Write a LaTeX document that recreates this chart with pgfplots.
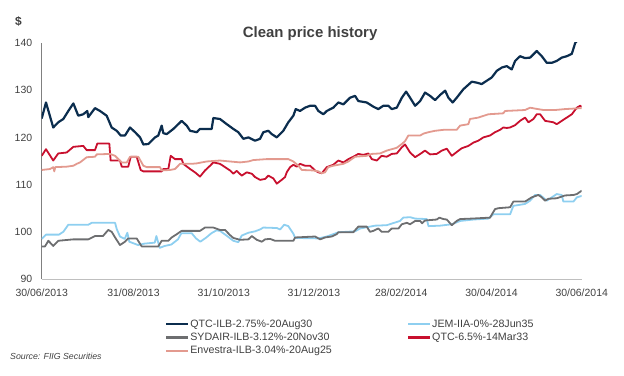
\documentclass[border=0pt]{standalone}
\usepackage{fontspec}
\setmainfont{Liberation Sans}
\usepackage{pgfplots}
\pgfplotsset{compat=1.18}
\definecolor{cNavy}{HTML}{0B2D4E}
\definecolor{cLBlue}{HTML}{8ECFF0}
\definecolor{cGray}{HTML}{6D6E70}
\definecolor{cRed}{HTML}{C8102E}
\definecolor{cSalmon}{HTML}{E39A8F}
\definecolor{cText}{HTML}{404040}
\begin{document}
\begin{tikzpicture}[x=1bp,y=1bp]
\path[use as bounding box] (0,0) rectangle (624,375);
\node[font=\bfseries\fontsize{12}{13}\selectfont, text=cText] at (18.5,353) {\$};
\node[anchor=west, font=\itshape\fontsize{8.8}{10}\selectfont, text=cText, inner sep=0pt] at (10,19) {Source: FIIG Securities};
\begin{axis}[
 at={(41.7bp,96bp)}, anchor=south west,
 scale only axis, width=540bp, height=236bp,
 xmin=0, xmax=365, ymin=90, ymax=140,
 axis x line*=bottom, axis y line*=left,
 x axis line style={draw=black!25, line width=1bp},
 y axis line style={draw=black!50, line width=0.8bp},
 major tick length=0pt,
 ytick={90,100,110,120,130,140},
 xtick={0,62,123,184,243,304,365},
 xticklabels={30/06/2013,31/08/2013,31/10/2013,31/12/2013,28/02/2014,30/04/2014,30/06/2014},
 ticklabel style={font=\fontsize{10.5}{12}\selectfont, text=cText},
 /pgf/number format/assume math mode=true,
 yticklabel style={xshift=-6bp},
 xticklabel style={yshift=-6bp},
 every axis title shift=0pt,
 title={Clean price history},
 title style={font=\bfseries\fontsize{15}{17}\selectfont, text=cText, anchor=base, at={(0.497,1.0254)}},
 legend columns=2,
 legend cell align=left,
 legend style={at={(0.2283,-0.167)}, anchor=north west, draw=none, fill=none, inner sep=0pt, outer sep=0pt,
   font=\fontsize{10.7}{12}\selectfont, text=cText, row sep=1.5bp,
   /tikz/every even column/.append style={column sep=74bp},
   nodes={inner sep=1bp, text height=7.7bp, text depth=2bp}},
 legend image code/.code={\draw[#1, line width=2.3bp] (0bp,0bp) -- (22bp,0bp);},
 every axis plot/.append style={no markers, line join=round},
]
\addplot[cNavy, line width=2.2bp] table {
0 124.0
2.9 127.4
7.8 122.1
11.2 123.2
14.6 123.9
18.0 125.6
21.4 127.2
24.7 124.6
28.1 124.9
30.8 125.6
31.5 124.3
36.0 126.2
39.4 125.6
43.9 124.6
47.3 122.1
50.7 121.4
53.4 120.4
56.3 120.4
59.7 122.1
63.1 121.1
66.5 120.0
68.7 118.5
72.1 118.6
76.6 120.0
78.8 120.4
81.1 122.5
82.2 120.9
84.5 120.7
89.0 121.8
94.6 123.5
98.0 122.5
100.3 121.4
104.8 121.1
107.0 121.8
114.9 121.8
116.0 124.1
120.5 123.9
125.1 122.8
129.5 121.8
132.9 121.1
136.3 119.7
139.7 120.0
144.2 119.3
147.6 119.7
149.8 121.1
153.2 121.4
155.5 120.7
158.9 120.0
163.3 121.4
166.7 123.2
170.1 124.6
171.7 126.0
174.6 125.6
178.0 126.3
181.4 126.7
184.8 126.7
187.0 125.6
190.4 124.9
192.7 125.6
197.1 126.3
200.5 127.4
203.9 127.0
208.4 128.4
211.8 128.8
214.0 127.7
219.7 127.4
224.2 126.5
227.5 126.0
230.9 126.7
234.3 126.7
236.6 126.0
240.0 126.3
243.4 128.4
246.3 129.7
249.0 128.4
252.4 126.7
255.8 127.7
259.1 129.5
262.5 128.8
265.9 127.9
269.3 129.0
272.7 129.9
274.9 128.4
277.8 127.4
280.5 128.4
285.0 130.2
290.7 131.8
294.1 131.6
297.4 131.3
300.8 132.0
304.2 132.7
307.6 134.1
311.0 134.8
314.3 135.1
317.7 134.4
320.0 136.2
323.3 137.2
326.7 136.8
330.1 136.9
334.6 138.3
338.0 137.2
341.4 135.8
344.8 135.8
348.1 136.2
351.5 136.9
354.9 137.2
358.3 137.7
360.6 140.0
361.5 140.3
};
\addlegendentry{QTC-ILB-2.75\%-20Aug30}
\addplot[cLBlue, line width=1.8bp] table {
0 98.5
2.9 99.4
11.7 99.4
14.6 100.0
18.0 101.5
31.5 101.5
33.8 101.9
49.6 101.9
50.7 100.6
52.9 99.0
56.1 98.5
57.9 99.8
59.2 97.9
65.1 97.2
69.6 97.5
76.4 97.7
77.5 99.1
79.8 96.6
83.1 97.0
87.6 97.3
92.1 98.4
94.4 99.7
101.4 99.7
104.3 98.6
107.2 97.9
111.3 98.8
114.7 99.7
118.1 100.3
120.5 100.2
124.9 99.2
129.5 98.1
132.9 97.8
135.2 99.2
139.7 99.8
144.2 100.1
147.6 100.5
149.8 100.9
158.9 100.8
161.2 100.5
163.9 101.5
166.7 101.2
170.1 99.6
171.3 98.7
187.0 98.6
192.7 99.0
197.1 99.5
200.5 99.9
211.8 100.1
215.2 100.7
225.3 101.3
233.2 101.4
242.2 102.3
244.4 103.0
249.0 103.1
252.4 102.8
260.3 102.7
261.4 101.2
269.3 101.3
277.2 101.6
282.8 102.3
291.8 102.6
301.9 102.8
305.3 103.7
316.6 103.7
318.8 105.5
326.7 105.9
330.1 106.6
333.5 107.8
336.9 107.8
341.4 106.6
348.1 108.0
351.5 107.8
352.6 106.4
359.4 106.4
361.7 107.3
365 107.6
};
\addlegendentry{JEM-IIA-0\%-28Jun35}
\addplot[cGray, line width=1.8bp] table {
0 96.9
2.2 96.9
4.5 98.1
7.8 97.0
11.2 98.1
21.4 98.4
31.5 98.4
36.0 99.1
41.4 99.1
45.0 100.4
47.3 100.0
49.6 98.8
52.9 97.2
56.3 97.9
58.5 98.6
64.2 98.6
67.6 96.9
78.8 96.9
81.1 98.1
85.6 98.1
87.9 98.8
91.3 99.5
94.6 100.2
107.0 100.2
110.4 100.9
116.0 100.9
120.5 100.4
123.9 100.4
127.3 99.3
129.5 98.7
134.1 98.3
139.7 98.4
142.0 99.1
145.4 98.3
148.8 97.9
151.0 98.4
154.4 98.5
157.7 98.1
170.1 98.1
171.3 98.8
184.8 99.0
188.2 98.4
191.5 98.8
196.0 99.0
199.4 99.5
200.5 99.9
210.6 99.9
214.0 101.1
219.7 101.1
221.9 100.0
224.2 100.2
227.5 100.7
229.8 100.0
234.3 100.0
236.6 100.7
241.1 100.7
243.4 101.6
246.8 101.9
249.0 101.6
252.4 102.3
255.8 102.3
257.1 101.8
259.1 102.4
267.0 102.6
268.8 103.0
271.5 102.7
273.8 102.6
277.2 101.4
280.5 102.3
282.8 102.7
290.7 102.8
303.0 103.0
306.4 104.8
308.6 105.0
316.6 105.2
318.8 106.4
326.7 106.4
331.2 107.3
335.7 107.8
338.0 107.3
340.3 106.6
342.5 107.0
348.1 107.1
353.7 107.7
359.4 107.8
361.7 108.0
365 108.7
};
\addlegendentry{SYDAIR-ILB-3.12\%-20Nov30}
\addplot[cRed, line width=1.8bp] table {
0 116.1
2.9 117.5
7.8 115.1
11.2 116.6
16.9 116.8
21.4 118.0
28.1 118.2
30.4 117.3
36.0 117.3
37.6 118.7
45.7 118.7
46.6 115.1
52.9 115.1
54.1 113.8
58.5 113.8
60.2 115.9
64.2 115.9
66.9 113.1
68.7 112.8
81.1 112.8
82.2 113.3
85.6 113.3
87.2 116.1
90.1 115.4
94.6 115.4
95.7 114.4
100.3 113.3
103.6 112.6
107.0 111.7
110.4 113.0
113.8 114.0
116.0 114.7
120.5 114.4
123.9 113.7
127.3 113.0
129.5 112.3
131.8 112.9
135.2 111.9
138.6 112.6
142.0 112.3
144.2 111.6
147.6 111.0
151.0 111.2
153.2 111.9
156.6 111.3
158.9 110.2
162.2 111.0
164.5 111.6
165.6 112.6
167.9 113.7
170.1 114.2
172.4 113.8
174.6 114.4
178.0 114.0
181.4 114.0
184.8 113.0
187.0 112.6
189.3 112.4
192.7 113.7
197.1 114.2
200.5 115.1
203.9 114.7
207.3 115.4
210.6 115.9
214.0 116.5
217.4 116.3
220.8 116.6
223.1 115.4
226.5 115.1
229.8 116.1
233.2 115.9
236.6 116.5
240.0 116.6
243.4 117.9
245.6 118.5
249.0 116.8
252.4 115.8
255.8 116.5
259.1 117.2
262.5 116.4
267.0 116.5
270.4 117.2
273.8 117.6
277.2 116.1
280.5 116.9
283.9 117.7
288.4 118.2
291.8 118.9
295.1 119.3
298.5 120.0
303.0 120.4
306.4 121.1
309.8 121.6
312.0 122.1
314.3 122.0
316.6 122.1
320.0 122.6
323.3 123.5
326.7 124.2
329.0 123.2
332.4 123.9
334.6 124.9
336.9 124.9
340.3 123.5
345.9 123.2
348.1 122.8
351.5 123.5
354.9 124.2
358.3 124.9
361.7 126.3
363.9 126.7
365 126.5
};
\addlegendentry{QTC-6.5\%-14Mar33}
\addplot[cSalmon, line width=1.8bp] table {
0 113.1
5.6 113.3
7.8 113.7
8.5 112.8
9.2 113.7
16.9 113.8
21.4 114.0
23.7 114.4
25.9 114.7
30.4 115.8
36.0 115.9
37.2 116.4
46.2 116.5
49.6 116.1
51.8 115.4
54.1 114.7
57.5 114.7
59.7 115.9
65.3 115.9
68.7 114.0
71.0 113.7
80.0 113.7
81.1 113.0
86.7 113.1
90.1 113.3
92.3 114.0
93.5 114.4
101.4 114.4
104.8 114.5
111.5 114.9
120.5 115.1
127.3 114.9
134.1 114.7
139.7 114.9
143.1 115.2
152.1 115.4
166.7 115.4
170.1 114.9
173.5 114.0
175.8 113.1
183.6 113.0
187.0 112.8
189.3 112.4
191.5 112.6
193.7 113.7
197.1 114.0
203.9 114.4
207.3 114.9
211.8 115.9
219.7 116.1
223.1 116.5
228.7 116.6
233.2 117.2
240.0 117.8
243.4 118.6
245.6 119.2
247.8 120.4
255.8 120.4
258.0 120.8
261.4 121.1
265.9 121.4
271.5 121.6
280.5 121.6
282.8 122.5
288.4 122.8
289.5 123.9
295.1 124.2
301.9 124.9
312.0 125.1
313.2 125.6
326.7 125.8
330.1 126.3
333.5 126.1
339.1 125.8
347.0 125.8
353.7 126.0
365 126.2
};
\addlegendentry{Envestra-ILB-3.04\%-20Aug25}
\end{axis}
\end{tikzpicture}
\end{document}
